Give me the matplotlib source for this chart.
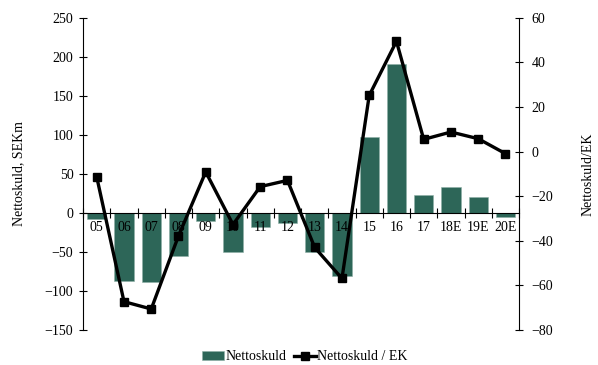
import matplotlib.pyplot as plt
import numpy as np

plt.rcParams['font.family'] = ['Liberation Serif', 'DejaVu Serif']
plt.rcParams['font.size'] = 10

years = ['05', '06', '07', '08', '09', '10', '11', '12', '13', '14',
         '15', '16', '17', '18E', '19E', '20E']
net_debt = [-8, -87, -89, -55, -10, -50, -18, -13, -50, -81,
            97, 191, 23, 33, 21, -5]
debt_equity = [-11.4, -67.3, -70.6, -37.8, -9.1, -32.7, -15.7, -12.9, -43.0, -56.9,
               25.2, 49.5, 5.5, 8.8, 5.8, -0.9]

bar_color = '#2D6658'
x = np.arange(len(years))

fig = plt.figure(figsize=(5.98, 3.65), dpi=100)
ax = fig.add_axes([0.139, 0.096, 0.729, 0.855])
ax2 = ax.twinx()

bars = ax.bar(x, net_debt, width=0.71, color=bar_color, edgecolor='#8fb0a6',
              linewidth=0.4, label='Nettoskuld', zorder=2)
line, = ax2.plot(x, debt_equity, color='black', lw=2.4, marker='s', markersize=6,
                 label='Nettoskuld / EK', zorder=3)

ax.set_xlim(-0.5, len(years) - 0.5)
ax.set_ylim(-150, 250)
ax.set_yticks(range(-150, 251, 50))
ax2.set_ylim(-80, 60)
ax2.set_yticks(range(-80, 61, 20))

# x axis runs along zero, ticks between categories, labels on top of bars
ax.set_axisbelow(False)
ax.spines['bottom'].set_position(('data', 0))
for a in (ax, ax2):
    a.spines['top'].set_visible(False)
ax2.spines['bottom'].set_visible(False)
ax.spines['right'].set_visible(False)
ax2.spines['left'].set_visible(False)
for s in ('left', 'bottom'):
    ax.spines[s].set_linewidth(0.8)
ax2.spines['right'].set_linewidth(0.8)

ax.set_xticks(np.arange(len(years) + 1) - 0.5)
ax.set_xticklabels([])
ax.tick_params(axis='x', which='major', direction='inout', length=7, width=0.8)
ax.set_xticks(x, minor=True)
ax.set_xticklabels(years, minor=True)
ax.tick_params(axis='x', which='minor', length=0, pad=6, labelsize=10)

ax.tick_params(axis='y', direction='inout', length=6, width=0.8, pad=4)
ax2.tick_params(axis='y', direction='inout', length=6, width=0.8, pad=6)

ax.set_ylabel('Nettoskuld, SEKm', labelpad=14)
ax2.set_ylabel('Nettoskuld/EK', labelpad=20)

fig.legend([bars, line], ['Nettoskuld', 'Nettoskuld / EK'], loc='lower center',
           bbox_to_anchor=(0.51, -0.03), ncol=2, frameon=False, handlelength=1.6,
           handletextpad=0.1, columnspacing=0.5, fontsize=10)

fig.savefig('out.png', dpi=100)
